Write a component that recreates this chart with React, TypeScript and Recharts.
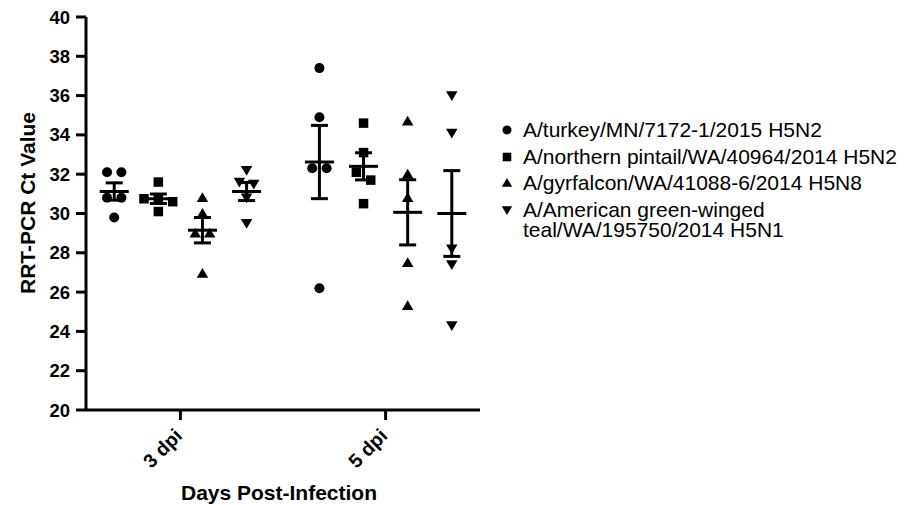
import { ScatterChart, Scatter, XAxis, YAxis, ErrorBar } from 'recharts';

// Ct values per bird
const dayLabels = ['3 dpi', '5 dpi'];
const strainNames = [
  'A/turkey/MN/7172-1/2015 H5N2',
  'A/northern pintail/WA/40964/2014 H5N2',
  'A/gyrfalcon/WA/41088-6/2014 H5N8',
  'A/American green-winged teal/WA/195750/2014 H5N1',
];
const yTicks = [20, 22, 24, 26, 28, 30, 32, 34, 36, 38, 40];

const turkeyCt3 = [32.1, 32.1, 30.8, 30.8, 29.8];
const turkeyCt5 = [37.4, 34.9, 32.3, 32.3, 26.2];
const pintailCt3 = [31.6, 30.75, 30.7, 30.6, 30.1];
const pintailCt5 = [34.6, 33.1, 32.1, 31.7, 30.5];
const gyrfalconCt3 = [30.8, 30.0, 29.0, 29.0, 26.95];
const gyrfalconCt5 = [34.7, 32.0, 30.8, 27.5, 25.3];
const tealCt3 = [32.2, 31.6, 31.5, 30.8, 29.5];
const tealCt5 = [36.0, 34.1, 28.2, 27.4, 24.3];

const strainCt = [
  [turkeyCt3, turkeyCt5],
  [pintailCt3, pintailCt5],
  [gyrfalconCt3, gyrfalconCt5],
  [tealCt3, tealCt5],
];
const markerKinds = ['circle', 'square', 'triangle', 'down'];

const GROUP_SPREAD = 0.215;
const JITTER = 0.07;
const ROW_GAP = 0.45;

// spread points that sit at nearly the same value side by side
function swarm(values: number[]) {
  const sorted = [...values].sort((a, b) => b - a);
  const rows: number[][] = [];
  sorted.forEach((v) => {
    const last = rows[rows.length - 1];
    if (last && last[last.length - 1] - v < ROW_GAP) last.push(v);
    else rows.push([v]);
  });
  return rows.flatMap((row) => row.map((v, i) => ({ v, dx: (i - (row.length - 1) / 2) * JITTER })));
}

const mean = (a: number[]) => a.reduce((s, v) => s + v, 0) / a.length;
const sem = (a: number[]) => {
  const m = mean(a);
  const sd = Math.sqrt(a.reduce((s, v) => s + (v - m) ** 2, 0) / (a.length - 1));
  return sd / Math.sqrt(a.length);
};

const pointData = strainCt.map((days, s) =>
  days.flatMap((vals, d) =>
    swarm(vals).map((p) => ({ x: d + (s - 1.5) * GROUP_SPREAD + p.dx, y: p.v }))
  )
);
const summaryData = strainCt.map((days, s) =>
  days.map((vals, d) => ({ x: d + (s - 1.5) * GROUP_SPREAD, y: mean(vals), sem: sem(vals) }))
);

const Marker = ({ kind, cx, cy, r = 5 }: { kind: string; cx: number; cy: number; r?: number }) => {
  if (kind === 'circle') return <circle cx={cx} cy={cy} r={r} fill="#000" />;
  if (kind === 'square') return <rect x={cx - r * 0.95} y={cy - r * 0.95} width={r * 1.9} height={r * 1.9} fill="#000" />;
  if (kind === 'triangle')
    return <polygon points={`${cx},${cy - r * 1.1} ${cx - r * 1.15},${cy + r * 0.85} ${cx + r * 1.15},${cy + r * 0.85}`} fill="#000" />;
  return <polygon points={`${cx},${cy + r * 1.1} ${cx - r * 1.15},${cy - r * 0.85} ${cx + r * 1.15},${cy - r * 0.85}`} fill="#000" />;
};

const MeanLine = ({ cx, cy }: any) => (
  <line x1={cx - 14.5} x2={cx + 14.5} y1={cy} y2={cy} stroke="#000" strokeWidth={3} />
);

const DayTick = ({ x, y, payload }: any) => {
  const tx = x + 3;
  const ty = y + 17;
  return (
    <text x={tx} y={ty} transform={`rotate(-45, ${tx}, ${ty})`} textAnchor="end" fontSize={19.5} fontWeight="bold" fill="#000">
      {dayLabels[payload.value]}
    </text>
  );
};

const LegendList = () => (
  <div
    style={{
      position: 'absolute',
      left: 498,
      top: 120,
      width: 419,
      fontFamily: 'Liberation Sans, Arial, sans-serif',
      fontSize: 21,
      lineHeight: '20px',
      color: '#000',
    }}
  >
    {strainNames.map((name, i) => (
      <div key={name} style={{ display: 'flex', alignItems: 'flex-start', marginBottom: 6.5 }}>
        <svg width={18} height={20} style={{ flex: 'none' }}>
          <Marker kind={markerKinds[i]} cx={9} cy={10} r={4.5} />
        </svg>
        <span style={{ marginLeft: 7, width: 390 }}>{name}</span>
      </div>
    ))}
  </div>
);

export default function App() {
  return (
    <div style={{ position: 'absolute', left: 0, top: 0, width: 917, height: 505, background: '#fff' }}>
      <ScatterChart
        width={917}
        height={505}
        margin={{ top: 17, right: 437, bottom: 0, left: 0 }}
        style={{ fontFamily: 'Liberation Sans, Arial, sans-serif' }}
      >
        <XAxis
          type="number"
          dataKey="x"
          domain={[-0.46, 1.46]}
          ticks={[0, 1]}
          interval={0}
          height={95}
          tickSize={10}
          tickMargin={0}
          tick={<DayTick />}
          axisLine={{ stroke: '#000', strokeWidth: 3 }}
          tickLine={{ stroke: '#000', strokeWidth: 3 }}
          label={{ value: 'Days Post-Infection', position: 'insideBottom', offset: 5, dx: -4, fontSize: 21, fontWeight: 'bold', fill: '#000' }}
        />
        <YAxis
          type="number"
          dataKey="y"
          domain={[20, 40]}
          ticks={yTicks}
          interval={0}
          width={86}
          tickSize={10}
          tickMargin={6}
          tick={{ fill: '#000', fontSize: 18.5, fontWeight: 'bold' }}
          axisLine={{ stroke: '#000', strokeWidth: 3 }}
          tickLine={{ stroke: '#000', strokeWidth: 3 }}
          label={{
            content: () => (
              <text x={27} y={203} transform="rotate(-90, 27, 203)" textAnchor="middle" dominantBaseline="central" fontSize={21} fontWeight="bold" fill="#000">
                RRT-PCR Ct Value
              </text>
            ),
          }}
        />
        {pointData.map((data, s) => (
          <Scatter
            key={`pts-${s}`}
            data={data}
            isAnimationActive={false}
            shape={(p: any) => <Marker kind={markerKinds[s]} cx={p.cx} cy={p.cy} />}
          />
        ))}
        {summaryData.map((data, s) => (
          <Scatter key={`sum-${s}`} data={data} isAnimationActive={false} shape={MeanLine}>
            <ErrorBar dataKey="sem" direction="y" width={8.5} stroke="#000" strokeWidth={3} isAnimationActive={false} />
          </Scatter>
        ))}
      </ScatterChart>
      <LegendList />
    </div>
  );
}
